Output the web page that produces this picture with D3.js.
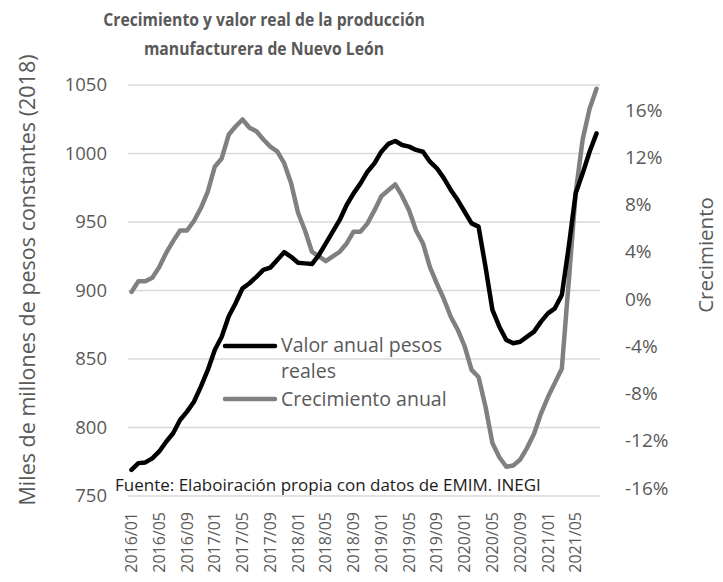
<!DOCTYPE html>
<html>
<head>
<meta charset="utf-8">
<script src="https://cdn.jsdelivr.net/npm/d3@7"></script>
<style>
  html, body { margin: 0; padding: 0; background: #fff; }
  svg { display: block; font-family: "Open Sans", sans-serif; }
</style>
</head>
<body>
<svg id="chart" width="723" height="582"></svg>
<script>
const categories = [
  "2016/01","2016/02","2016/03","2016/04","2016/05","2016/06","2016/07","2016/08","2016/09","2016/10","2016/11","2016/12",
  "2017/01","2017/02","2017/03","2017/04","2017/05","2017/06","2017/07","2017/08","2017/09","2017/10","2017/11","2017/12",
  "2018/01","2018/02","2018/03","2018/04","2018/05","2018/06","2018/07","2018/08","2018/09","2018/10","2018/11","2018/12",
  "2019/01","2019/02","2019/03","2019/04","2019/05","2019/06","2019/07","2019/08","2019/09","2019/10","2019/11","2019/12",
  "2020/01","2020/02","2020/03","2020/04","2020/05","2020/06","2020/07","2020/08","2020/09","2020/10","2020/11","2020/12",
  "2021/01","2021/02","2021/03","2021/04","2021/05","2021/06","2021/07","2021/08"
];

// Valor anual pesos reales (miles de millones de pesos de 2018)
const valorAnual = [
  769, 774, 774.5, 777.5, 782.5, 789.6, 795.8, 805.5, 811.6, 818.8, 829.8, 842,
  856.6, 866.3, 881, 890.7, 901.6, 905.3, 910, 915, 916.7, 922.3, 928, 924.6,
  920.3, 919.8, 919.3, 925.9, 934.4, 943, 951.5, 962.4, 970.9, 978.2, 986.7, 992.8,
  1001.3, 1007, 1009.1, 1006.2, 1005, 1002.6, 1001.3, 994, 989.2, 982, 973.4, 966,
  957.5, 949, 946.6, 917.4, 885.8, 873.6, 863.9, 861.5, 862.6, 866.3, 870, 877.3,
  883.3, 887, 896.7, 932, 971, 985.5, 1001.3, 1014.7
];

// Crecimiento anual (%)
const crecimientoAnual = [
  0.6, 1.5, 1.5, 1.8, 2.7, 3.9, 4.9, 5.8, 5.8, 6.6, 7.7, 9.1,
  11.2, 11.9, 13.9, 14.6, 15.2, 14.5, 14.2, 13.5, 12.9, 12.5, 11.5, 9.8,
  7.3, 5.8, 4.0, 3.6, 3.2, 3.6, 4.0, 4.7, 5.7, 5.7, 6.4, 7.5,
  8.7, 9.2, 9.7, 8.7, 7.5, 5.8, 4.7, 2.7, 1.3, 0.0, -1.5, -2.6,
  -4.0, -6.0, -6.6, -9.1, -12.2, -13.4, -14.2, -14.1, -13.6, -12.6, -11.4, -9.7,
  -8.3, -7.1, -5.9, 1.5, 9.0, 13.5, 16.1, 17.8
];

const leftTicks = [750, 800, 850, 900, 950, 1000, 1050];
const rightTicks = [-16, -12, -8, -4, 0, 4, 8, 12, 16];
const xTickLabels = ["2016/01","2016/05","2016/09","2017/01","2017/05","2017/09","2018/01","2018/05",
  "2018/09","2019/01","2019/05","2019/09","2020/01","2020/05","2020/09","2021/01","2021/05"];

const titleLines = ["Crecimiento y valor real de la producción", "manufacturera de Nuevo León"];
const leftTitle = "Miles de millones de pesos constantes (2018)";
const rightTitle = "Crecimiento";
const legendLabels = [["Valor anual pesos", "reales"], ["Crecimiento anual"]];
const sourceText = "Fuente: Elaboiración propia con datos de EMIM. INEGI";

const svg = d3.select("#chart");
const textColor = "#595959";
const plot = { left: 128, right: 600, top: 85, bottom: 496 };

const x = d3.scaleBand().domain(categories).range([plot.left, plot.right]);
const xc = d => x(d) + x.bandwidth() / 2;
const yL = d3.scaleLinear().domain([750, 1050]).range([plot.bottom, plot.top]);
const yR = d3.scaleLinear().domain([-16, 16]).range([488, 110]);

svg.append("rect").attr("width", 723).attr("height", 582).attr("fill", "#fff");

// gridlines
svg.append("g").selectAll("line").data(leftTicks).join("line")
  .attr("x1", plot.left).attr("x2", plot.right)
  .attr("y1", d => yL(d)).attr("y2", d => yL(d))
  .attr("stroke", "#d9d9d9").attr("stroke-width", 1.5);

// left axis
const gL = svg.append("g").attr("transform", `translate(${plot.left},0)`)
  .call(d3.axisLeft(yL).tickValues(leftTicks).tickSize(0).tickPadding(21).tickFormat(d3.format("d")));
gL.select(".domain").remove();
gL.selectAll("text").attr("fill", textColor).style("font-size", "18.5px").style("font-family", "'Open Sans', sans-serif");

// right axis
const gR = svg.append("g").attr("transform", `translate(${plot.right},0)`)
  .call(d3.axisRight(yR).tickValues(rightTicks).tickSize(0).tickPadding(25).tickFormat(d => `${d}%`));
gR.select(".domain").remove();
gR.selectAll("text").attr("fill", textColor).style("font-size", "19px").style("font-family", "'Open Sans', sans-serif");

// bottom axis
const gB = svg.append("g").attr("transform", `translate(0,${plot.bottom})`)
  .call(d3.axisBottom(x).tickValues(xTickLabels).tickSize(0));
gB.select(".domain").remove();
gB.selectAll("text")
  .attr("fill", textColor).style("font-size", "16px").style("font-family", "'Open Sans', sans-serif")
  .attr("text-anchor", "end")
  .attr("transform", "rotate(-90)")
  .attr("x", -16).attr("y", 0).attr("dy", "0.35em");

// lines
const lineL = d3.line().x((d, i) => xc(categories[i])).y(d => yL(d));
const lineR = d3.line().x((d, i) => xc(categories[i])).y(d => yR(d));

svg.append("path").datum(crecimientoAnual).attr("d", lineR)
  .attr("fill", "none").attr("stroke", "#808080").attr("stroke-width", 4.5)
  .attr("stroke-linejoin", "round").attr("stroke-linecap", "round");
svg.append("path").datum(valorAnual).attr("d", lineL)
  .attr("fill", "none").attr("stroke", "#000").attr("stroke-width", 4.5)
  .attr("stroke-linejoin", "round").attr("stroke-linecap", "round");

// title (slightly condensed to match the reference typeface width)
svg.append("g").attr("transform", "translate(264,0) scale(0.85,1)")
  .append("text").attr("text-anchor", "middle")
  .attr("fill", textColor).style("font-weight", "bold").style("font-size", "18.5px")
  .selectAll("tspan").data(titleLines).join("tspan")
  .attr("x", 0).attr("y", (d, i) => 26 + i * 29).text(d => d);

// axis titles
svg.append("text").attr("transform", "translate(35,280) rotate(-90)")
  .attr("text-anchor", "middle").attr("fill", textColor).style("font-size", "21.5px").text(leftTitle);
svg.append("text").attr("transform", "translate(713,255) rotate(-90)")
  .attr("text-anchor", "middle").attr("fill", textColor).style("font-size", "20.5px").text(rightTitle);

// legend
const legend = svg.append("g");
legend.append("line").attr("x1", 225).attr("x2", 275).attr("y1", 346).attr("y2", 346)
  .attr("stroke", "#000").attr("stroke-width", 4.5).attr("stroke-linecap", "round");
legend.append("line").attr("x1", 225).attr("x2", 275).attr("y1", 399).attr("y2", 399)
  .attr("stroke", "#808080").attr("stroke-width", 4.5).attr("stroke-linecap", "round");
legend.append("text").attr("fill", textColor).style("font-size", "19.5px")
  .selectAll("tspan").data(legendLabels[0]).join("tspan")
  .attr("x", 281).attr("y", (d, i) => 352 + i * 26).text(d => d);
legend.append("text").attr("fill", textColor).style("font-size", "19.5px")
  .attr("x", 281).attr("y", 406).text(legendLabels[1][0]);

// source
svg.append("text").attr("x", 115).attr("y", 491).attr("fill", "#1a1a1a")
  .style("font-size", "17px").text(sourceText);
</script>
</body>
</html>
